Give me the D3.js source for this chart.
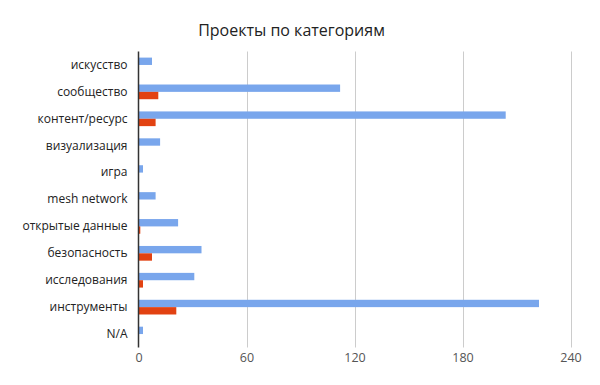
<!DOCTYPE html>
<html>
<head>
<meta charset="utf-8">
<script src="https://cdn.jsdelivr.net/npm/d3@7"></script>
<style>
  html, body { margin: 0; padding: 0; background: #fff; }
  svg { display: block; font-family: "Open Sans", "Noto Sans", sans-serif; }
</style>
</head>
<body>
<svg id="chart" width="600" height="385"></svg>
<script>
const title = "Проекты по категориям";
const categories = ["искусство", "сообщество", "контент/ресурс", "визуализация", "игра", "mesh network", "открытые данные", "безопасность", "исследования", "инструменты", "N/A"];
const seriesNames = ["s1", "s2"];
const blueValues = [7.5, 112, 204, 12, 2.5, 9.5, 22, 35, 31, 222.5, 2.5];
const redValues  = [0, 11, 9.5, 0, 0, 0, 1, 7.5, 2.5, 21, 0];
const tickValues = [0, 60, 120, 180, 240];

const colors = ["#79a6ec", "#e24212"];
const svg = d3.select("#chart");

const x = d3.scaleLinear().domain([0, 240]).range([138.5, 570.5]);
const y = d3.scaleBand().domain(categories).range([51.5, 347.5]).padding(0);
const inner = d3.scaleBand().domain(seriesNames).range([0, y.bandwidth()]).paddingInner(0).paddingOuter(0.83);

// title
svg.append("text")
  .attr("x", 291.5).attr("y", 35.5)
  .attr("text-anchor", "middle")
  .attr("font-size", 16).attr("fill", "#222")
  .text(title);

// gridlines
svg.append("g").selectAll("line")
  .data(tickValues.filter(d => d !== 0))
  .join("line")
  .attr("x1", d => Math.round(x(d)) + 0.5).attr("x2", d => Math.round(x(d)) + 0.5)
  .attr("y1", 51.5).attr("y2", 347.5)
  .attr("stroke", "#cccccc").attr("stroke-width", 1);

// x axis tick labels via d3 axis
const xAxis = d3.axisBottom(x).tickValues(tickValues).tickSize(0).tickPadding(0).tickFormat(d3.format("d"));
const gx = svg.append("g").attr("transform", "translate(0,353)").call(xAxis);
gx.select(".domain").remove();
gx.selectAll("text").attr("font-size", 12.5).attr("fill", "#555").attr("font-family", "'Open Sans', sans-serif");

// bars
const data = categories.map((c, i) => ({ cat: c, vals: [blueValues[i], redValues[i]] }));
const groups = svg.append("g").selectAll("g")
  .data(data).join("g")
  .attr("transform", d => `translate(0,${y(d.cat)})`);
groups.selectAll("rect")
  .data(d => d.vals.map((v, j) => ({ key: seriesNames[j], v, j })))
  .join("rect")
  .attr("x", x(0))
  .attr("y", d => inner(d.key))
  .attr("width", d => Math.max(0, x(d.v) - x(0)))
  .attr("height", inner.bandwidth())
  .attr("fill", d => colors[d.j]);

// y axis labels
const yAxis = d3.axisLeft(y).tickSize(0).tickPadding(11);
const gy = svg.append("g").attr("transform", `translate(${x(0)},0)`).call(yAxis);
gy.select(".domain").remove();
gy.selectAll("text").attr("font-size", 12).attr("fill", "#222").attr("font-family", "'Open Sans', sans-serif");

// baseline axis line
svg.append("line")
  .attr("x1", x(0)).attr("x2", x(0))
  .attr("y1", 51.5).attr("y2", 347.5)
  .attr("stroke", "#333").attr("stroke-width", 1.5);
</script>
</body>
</html>
